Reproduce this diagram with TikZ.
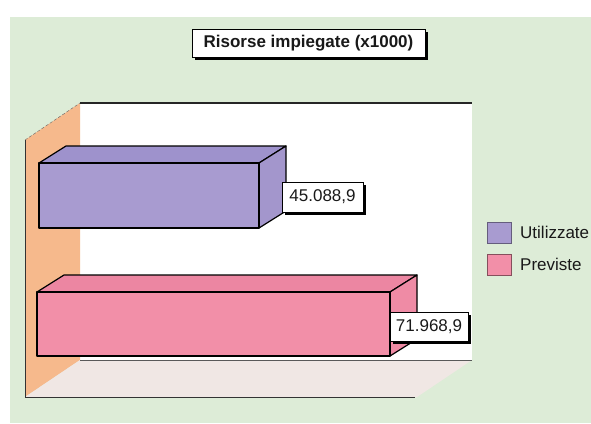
\documentclass[tikz,border=0pt]{standalone}
\usepackage{fontspec}
\setmainfont{Liberation Sans}
\usetikzlibrary{shadows}

\begin{document}
\begin{tikzpicture}[x=1pt,y=-1pt,
	boxed/.style={draw=black,thin,fill=white,inner sep=0pt,
		font=\fontsize{17}{19}\selectfont,text=black!90,
		drop shadow={shadow xshift=2.5pt,shadow yshift=-2.5pt,fill=black,opacity=1}},
	edge/.style={draw=black,line width=1.2pt,line join=round},
	legbox/.style={minimum width=24pt,minimum height=21pt,inner sep=0pt,line width=1pt},
	legtext/.style={anchor=west,inner sep=0pt,font=\fontsize{17}{19}\selectfont,text=black!90}]
	\definecolor{bggreen}{RGB}{221,236,215}
	\definecolor{wallorange}{RGB}{246,185,140}
	\definecolor{floorgray}{RGB}{240,231,228}
	\definecolor{usedfront}{RGB}{168,155,208}
	\definecolor{usedtop}{RGB}{158,146,204}
	\definecolor{usedside}{RGB}{163,150,204}
	\definecolor{planfront}{RGB}{242,143,168}
	\definecolor{plantop}{RGB}{236,134,162}
	\definecolor{planside}{RGB}{239,139,165}

	\useasboundingbox (0,0) rectangle (591,423);
	\fill[white] (0,0) rectangle (591,423);
	\fill[bggreen] (10,17) rectangle (591,423);

	\fill[white] (80,103) rectangle (472,360);
	\fill[wallorange] (25,140) -- (80,103) -- (80,360) -- (25,397) -- cycle;
	\fill[floorgray] (25,397) -- (80,360) -- (472,360) -- (417,397) -- cycle;
	\draw[black!60,thin,densely dashed] (25,140) -- (80,103);
	\draw[black!85,line width=1.1pt] (80,103) -- (472,103);
	\draw[black!80,line width=0.8pt] (25,140) -- (25,397) -- (415,397);
	\draw[black!65,line width=0.9pt] (80,360) -- (472,360);

	\draw[edge,fill=usedtop] (39,163) -- (66,146) -- (286,146) -- (259,163) -- cycle;
	\draw[edge,fill=usedside] (259,163) -- (286,146) -- (286,211) -- (259,228) -- cycle;
	\draw[edge,fill=usedfront] (39,163) rectangle (259,228);

	\draw[edge,fill=plantop] (37,292) -- (64,275) -- (417,275) -- (390,292) -- cycle;
	\draw[edge,fill=planside] (390,292) -- (417,275) -- (417,339) -- (390,356) -- cycle;
	\draw[edge,fill=planfront] (37,292) rectangle (390,356);

	\node[boxed,font=\fontsize{17}{19}\selectfont\bfseries,minimum width=233pt,minimum height=28pt] (title) at (308.5,43) {Risorse impiegate (x1000)};
	\node[boxed,minimum width=81pt,minimum height=30pt] (used) at (322.5,197) {45.088,9};
	\node[boxed,minimum width=78pt,minimum height=29pt] (planned) at (429,326.5) {71.968,9};

	\node[legbox,draw=usedfront!60!black,fill=usedfront] (keyused) at (499,232.5) {};
	\node[legbox,draw=planfront!55!black,fill=planfront] (keyplan) at (499,264.5) {};
	\node[legtext] (txtused) at (520,232) {Utilizzate};
	\node[legtext] (txtplan) at (520,264) {Previste};
\end{tikzpicture}
\end{document}
